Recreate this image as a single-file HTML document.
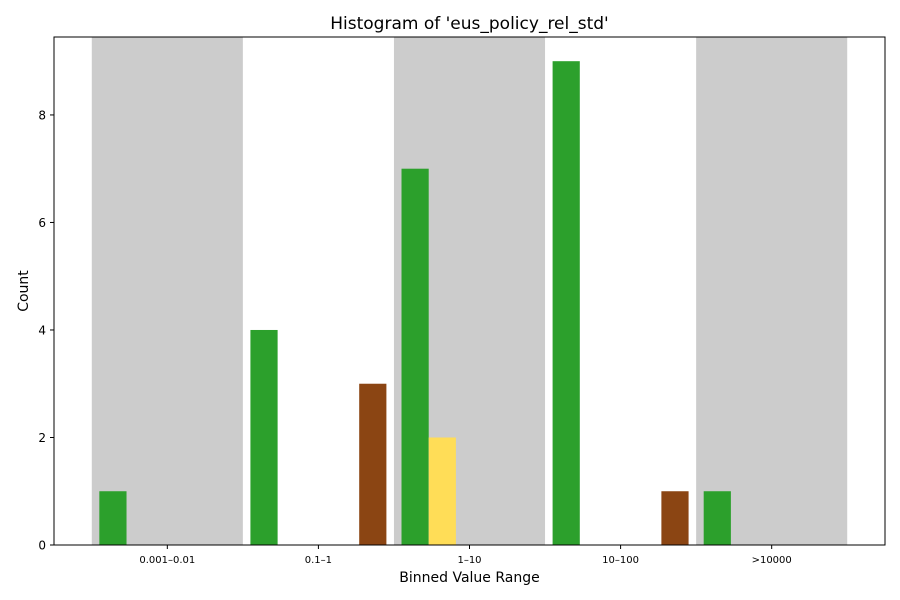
<!DOCTYPE html>
<html><head><meta charset="utf-8"><style>
body{margin:0;background:#fff;}
svg{display:block;font-family:"DejaVu Sans","Liberation Sans",sans-serif;}
</style></head><body>
<svg id="chart" width="900" height="600" viewBox="0 0 900 600">
<rect width="900" height="600" fill="#fff"/>
<g id="bands"></g><g id="bars"></g><g id="axes"></g>
<text x="469.5" y="29" text-anchor="middle" font-size="17">Histogram of 'eus_policy_rel_std'</text>
<text x="469.5" y="582" text-anchor="middle" font-size="14">Binned Value Range</text>
<text transform="translate(28,291) rotate(-90)" text-anchor="middle" font-size="14">Count</text>
</svg>
<script>
const categories=["0.001–0.01","0.1–1","1–10","10–100",">10000"];
const greenValues=[1,4,7,9,1];
const yellowValues=[0,0,2,0,0];
const brownValues=[0,3,0,1,0];
const yTicks=[0,2,4,6,8];
const NS="http://www.w3.org/2000/svg";
const L=54,R=885,T=37,B=545;
const xs=v=>L+(v+0.75)*(R-L)/5.5;
const ys=v=>B-v*(B-T)/9.45;
function mk(tag,attrs,parent){const e=document.createElementNS(NS,tag);for(const k in attrs)e.setAttribute(k,attrs[k]);parent.appendChild(e);return e;}
const bands=document.getElementById('bands'),bars=document.getElementById('bars'),axes=document.getElementById('axes');
categories.forEach((c,i)=>{if(i%2===0){const r=mk('rect',{x:xs(i-0.5),y:T,width:xs(i+0.5)-xs(i-0.5),height:B-T,fill:'#cccccc'},bands);

}});
const series=[[greenValues,-0.36,'#2ca02c','green'],[yellowValues,-0.18,'#ffdd57','yellow'],[brownValues,0.36,'#8b4513','brown']];
series.forEach(([vals,off,col,nm])=>{vals.forEach((v,i)=>{if(v<=0)return;const x0=xs(i+off-0.09),x1=xs(i+off+0.09);
const r=mk('rect',{x:x0,y:ys(v),width:x1-x0,height:ys(0)-ys(v),fill:col},bars);

});});
mk('rect',{x:L,y:T,width:R-L,height:B-T,fill:'none',stroke:'#000','stroke-width':1},axes);
yTicks.forEach(t=>{const y=ys(t);mk('line',{x1:L-4,x2:L,y1:y,y2:y,stroke:'#000'},axes);
const tx=mk('text',{x:L-8,y:y+4.5,'text-anchor':'end','font-size':12},axes);tx.textContent=t;

});
categories.forEach((c,i)=>{const x=xs(i);mk('line',{x1:x,x2:x,y1:B,y2:B+4,stroke:'#000'},axes);
const tx=mk('text',{x:x,y:B+18,'text-anchor':'middle','font-size':10},axes);tx.textContent=c;

});
</script>
</body></html>
